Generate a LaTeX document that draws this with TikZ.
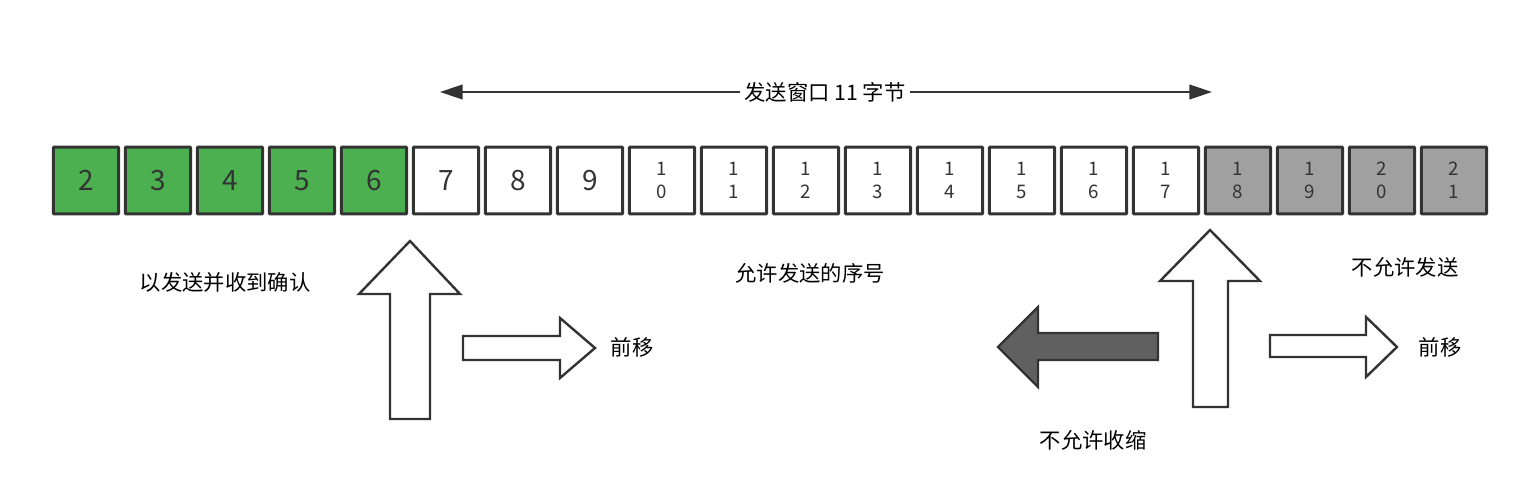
\documentclass[tikz,border=0pt]{standalone}
\usepackage{fontspec}
\setmainfont{Noto Sans CJK SC}
\usetikzlibrary{positioning,arrows.meta}
\definecolor{ackgreen}{HTML}{4CAF50}
\definecolor{lockgray}{HTML}{A0A0A0}
\definecolor{darkarrow}{HTML}{606060}
\definecolor{edgegray}{HTML}{333333}
\tikzset{
  cell/.style={draw=edgegray, line width=2.2pt, minimum width=49pt, minimum height=50pt,
    inner sep=0pt, align=center, text=edgegray, rounded corners=0.6pt},
  bignum/.style={font=\fontsize{21}{21}\selectfont},
  smallnum/.style={font=\fontsize{14}{16}\selectfont},
  label/.style={font=\fontsize{16}{18}\selectfont, text=black},
  blockarrow/.style={draw=edgegray, line width=1.8pt, line join=miter, fill=white}
}
\begin{document}
\begin{tikzpicture}[x=0.75pt,y=-0.75pt]
  \useasboundingbox (0,0) rectangle (1532,500);
  % numbered byte cells
  \foreach \n in {2,...,21} {
    \pgfmathtruncatemacro\xc{86+(\n-2)*72}
    \ifnum\n<7
      \node[cell, bignum, fill=ackgreen] (c\n) at (\xc,180.5) {\n};
    \else\ifnum\n<10
      \node[cell, bignum, fill=white] (c\n) at (\xc,180.5) {\n};
    \else
      \pgfmathtruncatemacro\ta{int(\n/10)}
      \pgfmathtruncatemacro\tb{int(mod(\n,10))}
      \ifnum\n<18
        \node[cell, smallnum, fill=white] (c\n) at (\xc,180.5) {\ta\\[1pt]\tb};
      \else
        \node[cell, smallnum, fill=lockgray] (c\n) at (\xc,180.5) {\ta\\[1pt]\tb};
      \fi
    \fi\fi
  }

  % window size
  \node[label] (win) at (825,92) {发送窗口 11 字节};
  \coordinate (wl) at (440,92);
  \coordinate (wr) at (1212,92);
  \draw[-{Triangle[length=17pt,width=11pt]}, line width=1.5pt, edgegray] (win.west) -- (wl);
  \draw[-{Triangle[length=17pt,width=11pt]}, line width=1.5pt, edgegray] (win.east) -- (wr);

  % labels
  \node[label] (acked) at (225,282) {以发送并收到确认};
  \node[label] (allowed) at (810,273) {允许发送的序号};
  \node[label] (blocked) at (1405,267) {不允许发送};
  \node[label] (mv1) at (632,347) {前移};
  \node[label] (mv2) at (1440,347) {前移};
  \node[label] (noshrink) at (1093,440) {不允许收缩};

  % block arrows
  \draw[blockarrow] (410,241) -- (460,294) -- (430,294) -- (430,419) -- (390,419)
    -- (390,294) -- (359,294) -- cycle;
  \draw[blockarrow] (1210,230) -- (1260,281) -- (1228,281) -- (1228,407) -- (1193,407)
    -- (1193,281) -- (1160,281) -- cycle;
  \draw[blockarrow] (463,336) -- (560,336) -- (560,318) -- (595,348) -- (560,378)
    -- (560,360) -- (463,360) -- cycle;
  \draw[blockarrow] (1270,335) -- (1366,335) -- (1366,317) -- (1397,347) -- (1366,377)
    -- (1366,357) -- (1270,357) -- cycle;
  \draw[blockarrow, fill=darkarrow] (998,347) -- (1038,307) -- (1038,333) -- (1158,333)
    -- (1158,360) -- (1038,360) -- (1038,387) -- cycle;
\end{tikzpicture}
\end{document}
